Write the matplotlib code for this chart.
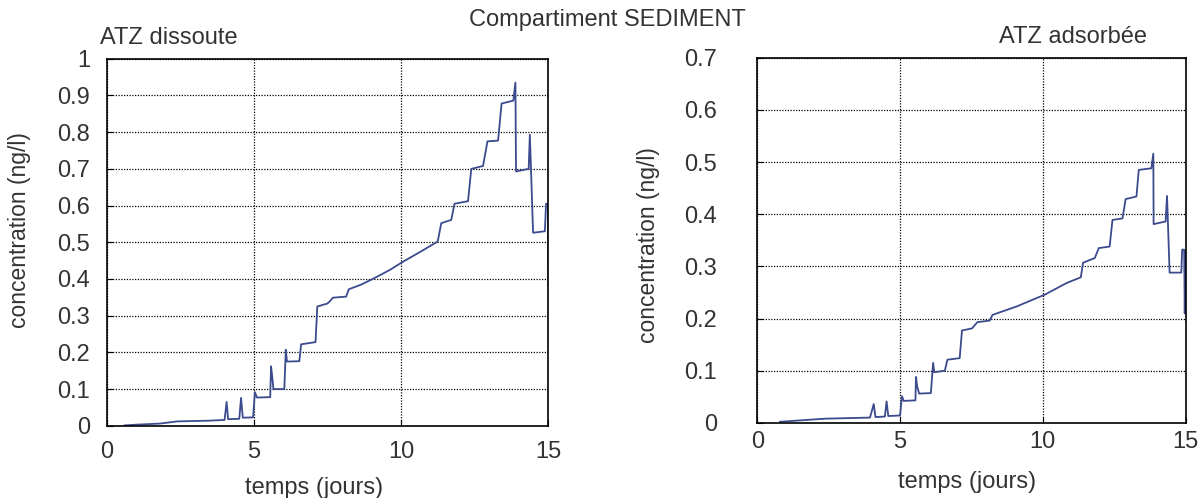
import matplotlib.pyplot as plt

plt.rcParams['font.family'] = ['Liberation Sans', 'DejaVu Sans']

## data (time in days, concentration in ng/l)

t_diss = [0.6, 1.0, 1.8, 2.4, 3.5, 4.0, 4.07, 4.12, 4.5, 4.56, 4.62, 4.97, 5.03, 5.1,
          5.55, 5.58, 5.62, 5.66, 6.03, 6.08, 6.12, 6.54, 6.6, 7.09, 7.15, 7.49, 7.55,
          7.68, 8.13, 8.22, 8.62, 9.08, 9.6, 10.02, 10.67, 11.24, 11.36, 11.7, 11.81,
          12.27, 12.38, 12.78, 12.93, 13.29, 13.41, 13.81, 13.88, 13.9, 14.33, 14.37,
          14.48, 14.88, 14.92, 14.99, 15.0]
c_diss = [0.001, 0.003, 0.006, 0.012, 0.014, 0.016, 0.065, 0.018, 0.019, 0.076, 0.022,
          0.023, 0.092, 0.077, 0.078, 0.162, 0.133, 0.100, 0.100, 0.207, 0.175, 0.176,
          0.222, 0.228, 0.325, 0.333, 0.337, 0.349, 0.352, 0.372, 0.384, 0.402, 0.424,
          0.445, 0.475, 0.502, 0.552, 0.561, 0.605, 0.612, 0.700, 0.708, 0.775, 0.777,
          0.878, 0.886, 0.935, 0.693, 0.700, 0.793, 0.526, 0.530, 0.605, 0.605, 0.384]

t_ads = [0.8, 1.6, 2.4, 3.2, 3.95, 4.08, 4.14, 4.47, 4.53, 4.59, 5.0, 5.07, 5.13, 5.54,
         5.56, 5.6, 5.67, 6.08, 6.16, 6.2, 6.57, 6.66, 7.09, 7.17, 7.52, 7.71, 8.14,
         8.24, 9.08, 10.08, 10.83, 11.33, 11.41, 11.82, 11.96, 12.34, 12.44, 12.79,
         12.9, 13.28, 13.36, 13.8, 13.87, 13.88, 14.3, 14.35, 14.44, 14.85, 14.88,
         14.95, 14.97, 14.99, 15.0]
c_ads = [0.002, 0.005, 0.008, 0.009, 0.010, 0.036, 0.011, 0.012, 0.041, 0.013, 0.014,
         0.051, 0.042, 0.043, 0.088, 0.070, 0.056, 0.057, 0.115, 0.097, 0.100, 0.121,
         0.124, 0.177, 0.181, 0.193, 0.196, 0.207, 0.223, 0.246, 0.268, 0.279, 0.307,
         0.316, 0.335, 0.338, 0.389, 0.392, 0.429, 0.434, 0.485, 0.488, 0.516, 0.381,
         0.386, 0.435, 0.288, 0.288, 0.332, 0.332, 0.210, 0.330, 0.210]

yticks_diss = [0, 0.1, 0.2, 0.3, 0.4, 0.5, 0.6, 0.7, 0.8, 0.9, 1]
yticks_ads = [0, 0.1, 0.2, 0.3, 0.4, 0.5, 0.6, 0.7]
xticks = [0, 5, 10, 15]

line_col = '#3c4a8e'
txt_col = '#333333'
fs = 17

fig = plt.figure(figsize=(12, 4.98), dpi=100)
ax1 = fig.add_axes([0.089, 0.145, 0.368, 0.737])
ax2 = fig.add_axes([0.631, 0.151, 0.357, 0.733])

fig.text(0.506, 0.96, 'Compartiment SEDIMENT', ha='center', va='center', fontsize=fs, color=txt_col)

for ax, t, c, yt, ymax, ttl, tx in [(ax1, t_diss, c_diss, yticks_diss, 1.0, 'ATZ dissoute', 0.14),
                                     (ax2, t_ads, c_ads, yticks_ads, 0.7, 'ATZ adsorbée', 0.737)]:
    ax.plot(t, c, color=line_col, lw=1.3)
    ax.set_xlim(0, 15)
    ax.set_ylim(0, ymax)
    ax.set_xticks(xticks)
    ax.set_yticks(yt)
    ax.set_yticklabels([('%g' % v) for v in yt])
    ax.grid(True, color='black', linestyle=(0, (1, 1.2)), lw=0.9)
    for s in ax.spines.values():
        s.set_linewidth(1.2)
    ax.tick_params(direction='in', length=4, labelsize=fs, colors='black', labelcolor=txt_col)
    ax.set_xlabel('temps (jours)', fontsize=fs, color=txt_col, va='center')
    ax.set_ylabel('concentration (ng/l)', fontsize=16.5, color=txt_col)
    ax.text(tx, 1.057, ttl, transform=ax.transAxes, ha='center', va='center', fontsize=fs, color=txt_col)

ax1.tick_params(axis='y', pad=12)
ax1.tick_params(axis='x', pad=11)
ax2.tick_params(axis='y', pad=29)
ax2.tick_params(axis='x', pad=6)
ax1.xaxis.set_label_coords(0.469, -0.169)
ax1.yaxis.set_label_coords(-0.172, 0.534)
ax2.xaxis.set_label_coords(0.49, -0.162)
ax2.yaxis.set_label_coords(-0.228, 0.488)

plt.savefig('out.png', dpi=100)
